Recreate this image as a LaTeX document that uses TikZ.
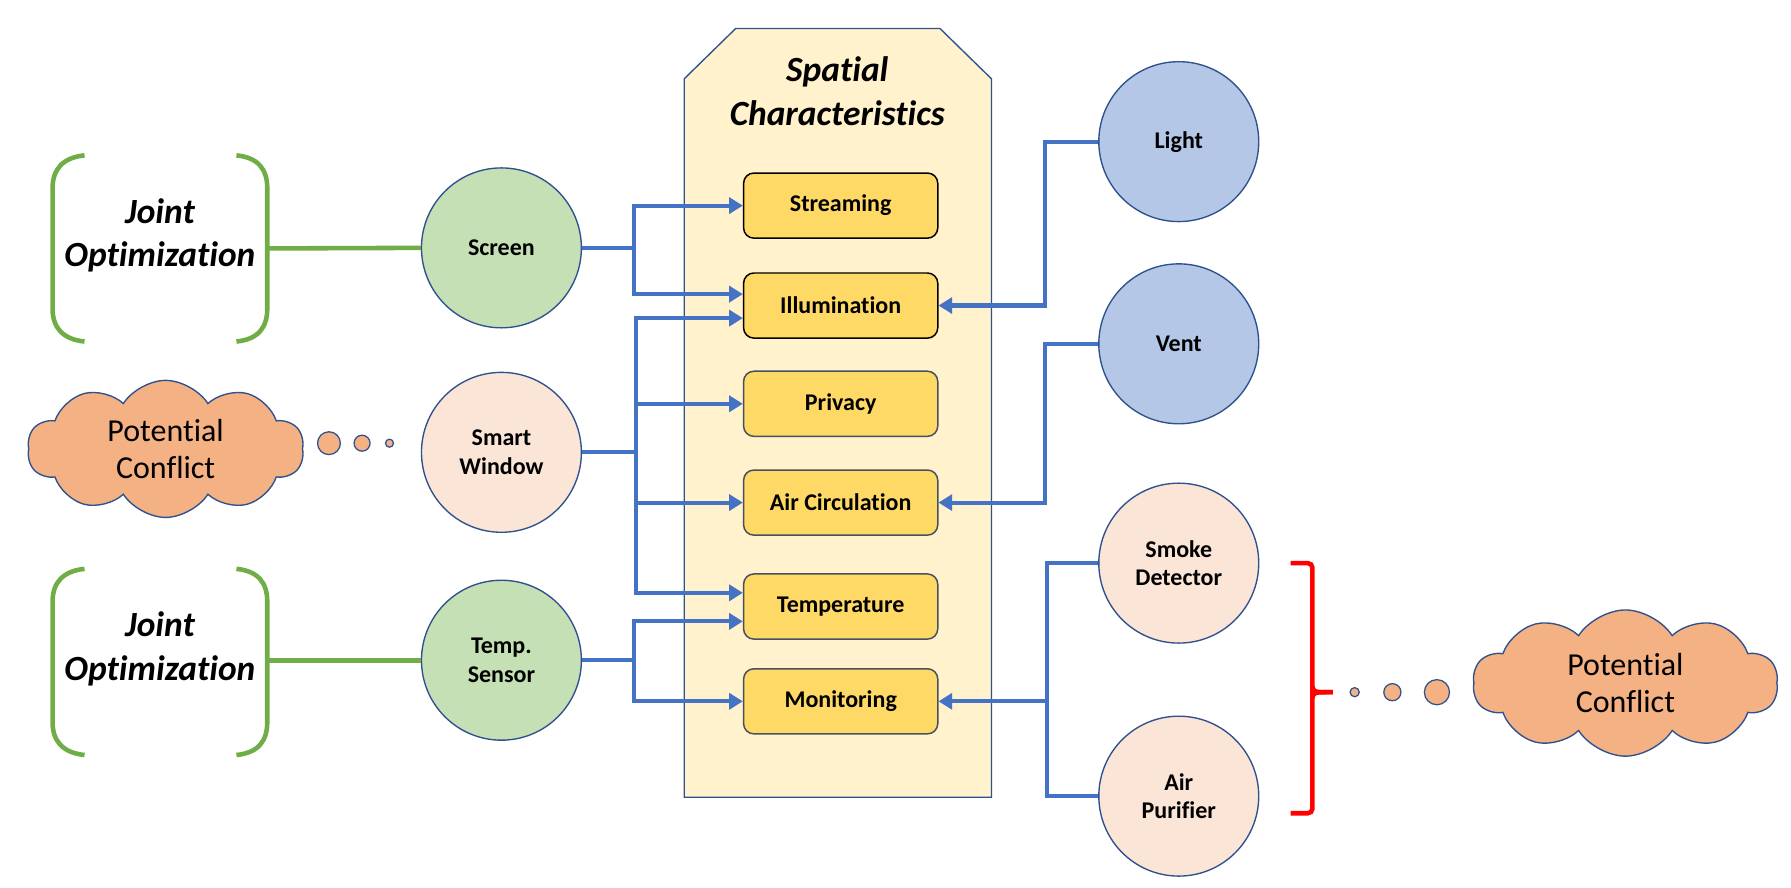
\documentclass[tikz,border=0pt]{standalone}
\usepackage{fontspec}
\setmainfont{Carlito}[Ligatures={NoCommon}]
\usetikzlibrary{shapes.symbols,arrows.meta}
\definecolor{arrblue}{HTML}{4472C4}
\definecolor{navy}{HTML}{2F528F}
\definecolor{gfill}{HTML}{C5E0B4}
\definecolor{pfill}{HTML}{FBE5D6}
\definecolor{bfill}{HTML}{B4C7E7}
\definecolor{ofill}{HTML}{F4B183}
\definecolor{panelfill}{HTML}{FFF2CC}
\definecolor{boxfill}{HTML}{FFD966}
\definecolor{boxline}{HTML}{465060}
\definecolor{jgreen}{HTML}{70AD47}
\definecolor{bred}{HTML}{FF0000}
\begin{document}
\begin{tikzpicture}[x=1pt,y=-1pt,
  dev/.style={circle, draw=navy, line width=1.2pt, minimum size=140pt, inner sep=0pt, align=center, font=\fontsize{21}{25}\selectfont\bfseries},
  charbox/.style={rounded corners=9pt, fill=boxfill, draw=boxline, line width=1.3pt, minimum width=170pt, minimum height=57pt, inner sep=0pt, font=\fontsize{21}{25}\selectfont\bfseries},
  title/.style={align=center, font=\fontsize{31}{38}\selectfont\bfseries\itshape},
  arr/.style={draw=arrblue, line width=3.6pt, -{Triangle[length=12pt,width=14pt]}},
  wire/.style={draw=arrblue, line width=3.6pt},
  gline/.style={draw=jgreen, line width=4pt},
  thought/.style={cloud, cloud puffs=10, cloud puff arc=115, cloud ignores aspect, fill=ofill, draw=navy, line width=1.2pt, align=center, inner sep=0pt, font=\fontsize{28}{33}\selectfont},
  bubble/.style={circle, fill=ofill, draw=navy, line width=1.1pt, inner sep=0pt},
  redbr/.style={draw=bred, line width=4pt, rounded corners=4pt}
]
\useasboundingbox (0,0) rectangle (1568,777);

% central panel
\filldraw[fill=panelfill, draw=navy, line width=1.2pt]
  (599,69) -- (644,25) -- (823,25) -- (868,69) -- (868,698) -- (599,698) -- cycle;
\node[title] (sc) at (733,80) {Spatial\\Characteristics};

% characteristic boxes
\node[charbox, draw=black] (stream) at (736,180) {Streaming};
\node[charbox, draw=black] (illum) at (736,267.5) {Illumination};
\node[charbox] (priv) at (736,353.5) {Privacy};
\node[charbox] (airc) at (736,440) {Air Circulation};
\node[charbox] (temp) at (736,531) {Temperature};
\node[charbox] (monit) at (736,614) {Monitoring};

% left devices
\node[dev, fill=gfill] (screen) at (439,217) {Screen};
\node[dev, fill=pfill] (window) at (439,396) {Smart\\Window};
\node[dev, fill=gfill] (tsensor) at (439,578) {Temp.\\Sensor};

% right devices
\node[dev, fill=bfill] (light) at (1032,124) {Light};
\node[dev, fill=bfill] (vent) at (1032,301) {Vent};
\node[dev, fill=pfill] (smoke) at (1032,493) {Smoke\\Detector};
\node[dev, fill=pfill] (purifier) at (1032,697) {Air\\Purifier};

% joint optimization brackets
\node[title] (jo1) at (140,206) {Joint\\Optimization};
\node[title] (jo2) at (140,568) {Joint\\Optimization};
\foreach \dy/\nm in {0/a,362/b}{
  \draw[jgreen, line width=4pt] (74,136+\dy) .. controls (55,138+\dy) and (46,148+\dy) .. (46,165+\dy)
     -- (46,270+\dy) .. controls (46,287+\dy) and (55,297+\dy) .. (74,299+\dy);
  \draw[jgreen, line width=4pt] (207,136+\dy) .. controls (226,138+\dy) and (234,148+\dy) .. (234,165+\dy)
     -- (234,270+\dy) .. controls (234,287+\dy) and (226,297+\dy) .. (207,299+\dy);
  \coordinate (jr\nm) at (234,217.5+\dy);
}
\draw[gline] (jra) -- (screen.west);
\draw[gline] (jrb |- tsensor.west) -- (tsensor.west);

% clouds
\node[thought, minimum width=242pt, minimum height=120pt] (cl1) at (145,393) {Potential\\Conflict};
\node[bubble, minimum size=20pt] (d1) at (288,388) {};
\node[bubble, minimum size=14pt] (d2) at (317,388) {};
\node[bubble, minimum size=7pt] (d3) at (341,388) {};

\node[thought, minimum width=267pt, minimum height=128pt] (cl2) at (1423,598) {Potential\\Conflict};
\node[bubble, minimum size=8pt] (e1) at (1186,606) {};
\node[bubble, minimum size=15pt] (e2) at (1219,606) {};
\node[bubble, minimum size=22pt] (e3) at (1258,606) {};

% red bracket
\draw[redbr] (1130,493) -- (1149,493) -- (1149,712) -- (1130,712);
\draw[bred, line width=4pt] (1149,601) .. controls (1150,606) .. (1167,606);
\draw[bred, line width=4pt] (1149,611) .. controls (1150,606) .. (1167,606);

% left buses
\coordinate (sbus) at (555,0);
\coordinate (wbus) at (557,0);
\draw[wire] (screen.east) -- (screen.east -| sbus);
\draw[arr] (screen.east -| sbus) |- (stream.west);
\draw[arr] (screen.east -| sbus) |- ([yshift=10pt]illum.west);

\draw[wire] (window.east) -- (window.east -| wbus);
\draw[arr] (window.east -| wbus) |- ([yshift=-11pt]illum.west);
\draw[arr] (window.east -| wbus) |- (priv.west);
\draw[arr] (window.east -| wbus) |- (airc.west);
\draw[arr] (window.east -| wbus) |- ([yshift=12pt]temp.west);

\draw[wire] (tsensor.east) -- (tsensor.east -| sbus);
\draw[arr] (tsensor.east -| sbus) |- ([yshift=-13pt]temp.west);
\draw[arr] (tsensor.east -| sbus) |- (monit.west);

% right buses
\coordinate (rbus) at (915,0);
\coordinate (rbus2) at (917,0);
\draw[arr] (light.west) -- (light.west -| rbus) |- (illum.east);
\draw[arr] (vent.west) -- (vent.west -| rbus) |- (airc.east);
\draw[wire] (smoke.west) -- (smoke.west -| rbus2) -- (purifier.west -| rbus2) -- (purifier.west);
\draw[arr] (monit.east -| rbus2) -- (monit.east);
\end{tikzpicture}
\end{document}
